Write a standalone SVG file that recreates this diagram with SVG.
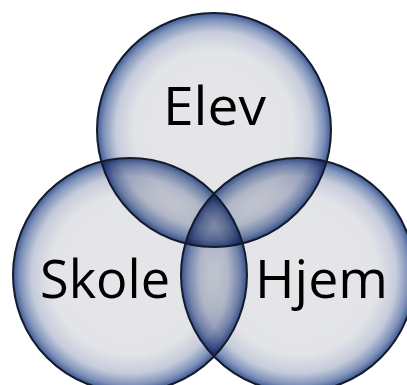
<svg xmlns="http://www.w3.org/2000/svg" width="407" height="385" viewBox="0 0 407 385">
  <defs>
    <radialGradient id="ball" cx="0.5" cy="0.5" r="0.5">
      <stop offset="0" stop-color="#e6e6e9"/>
      <stop offset="0.68" stop-color="#e3e4e8"/>
      <stop offset="0.84" stop-color="#c6ccdb"/>
      <stop offset="0.94" stop-color="#8093bb"/>
      <stop offset="1" stop-color="#3f5a93"/>
    </radialGradient>
  </defs>
  <style>
    .fill { fill: url(#ball); mix-blend-mode: multiply; }
    .edge { fill: none; stroke: #141b2e; stroke-width: 2; }
    .lbl { font-family: "Open Sans", "Noto Sans", "Liberation Sans", sans-serif; font-size: 53px; fill: #000; text-anchor: middle; }
  </style>
  <rect x="0" y="0" width="407" height="385" fill="#ffffff"/>
  <g id="node-elev">
    <circle class="fill" cx="214" cy="130" r="117"/>
  </g>
  <g id="node-skole">
    <circle class="fill" cx="130" cy="275" r="117"/>
  </g>
  <g id="node-hjem">
    <circle class="fill" cx="298" cy="275" r="117"/>
  </g>
  <g id="outlines">
    <circle class="edge" cx="214" cy="130" r="117"/>
    <circle class="edge" cx="130" cy="275" r="117"/>
    <circle class="edge" cx="298" cy="275" r="117"/>
  </g>
  <g id="labels">
    <text class="lbl" x="214.5" y="125" textLength="103" lengthAdjust="spacingAndGlyphs">Elev</text>
    <text class="lbl" x="105" y="298" textLength="130" lengthAdjust="spacingAndGlyphs">Skole</text>
    <text class="lbl" x="321.5" y="298" textLength="133" lengthAdjust="spacingAndGlyphs">Hjem</text>
  </g>
</svg>
